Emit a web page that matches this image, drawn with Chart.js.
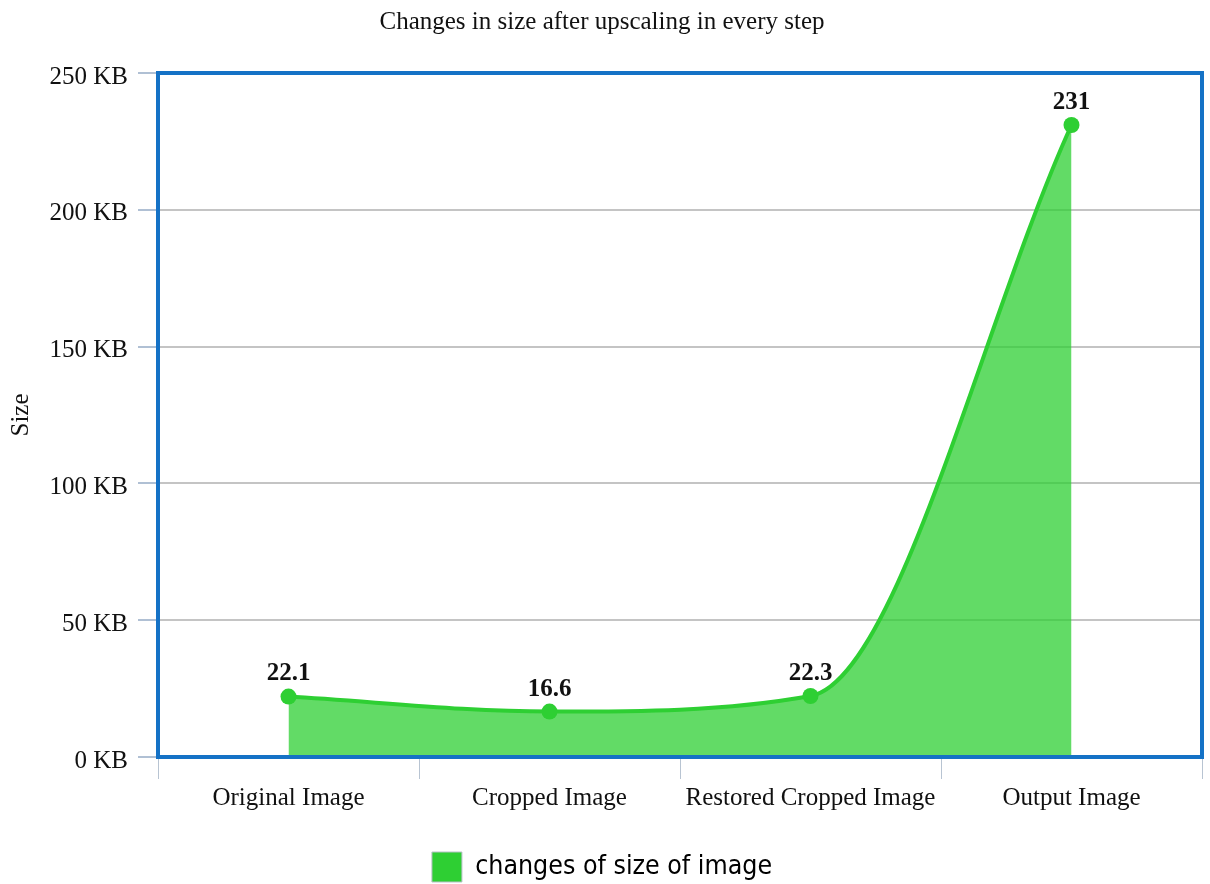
<!DOCTYPE html>
<html>
<head>
<meta charset="utf-8">
<script src="https://cdn.jsdelivr.net/npm/chart.js@4"></script>
<style>
  html, body { margin: 0; padding: 0; background: #fff; }
  #wrap { width: 1210px; height: 884px; }
</style>
</head>
<body>
<div id="wrap"><canvas id="sizeChart"></canvas></div>
<script>
const steps = ['Original Image', 'Cropped Image', 'Restored Cropped Image', 'Output Image'];
const sizesKb = [22.1, 16.6, 22.3, 231];
const yTicks = [0, 50, 100, 150, 200, 250];

const serif = '"Liberation Serif", "Times New Roman", serif';
const lineGreen = '#2ecf33';

// blue frame round the plot area
const frame = {
    id: 'frame',
    afterDraw(chart) {
        const { ctx, chartArea: a } = chart;
        ctx.save();
        ctx.strokeStyle = '#1572c6';
        ctx.lineWidth = 4;
        ctx.strokeRect(a.left, a.top, a.right - a.left, a.bottom - a.top);
        ctx.restore();
    }
};

// bold value above every point
const valueLabels = {
    id: 'valueLabels',
    afterDatasetsDraw(chart) {
        const { ctx } = chart;
        const meta = chart.getDatasetMeta(0);
        ctx.save();
        ctx.font = 'bold 25px ' + serif;
        ctx.fillStyle = '#111';
        ctx.textAlign = 'center';
        ctx.textBaseline = 'bottom';
        meta.data.forEach((pt, i) => {
            ctx.fillText(String(sizesKb[i]), pt.x, pt.y - 10);
        });
        ctx.restore();
    }
};

new Chart(document.getElementById('sizeChart'), {
    type: 'line',
    data: {
        labels: steps,
        datasets: [{
            label: 'changes of size of image',
            data: sizesKb,
            borderColor: lineGreen,
            backgroundColor: 'rgba(46,207,51,0.75)',
            borderWidth: 4,
            fill: 'origin',
            cubicInterpolationMode: 'monotone',
            pointRadius: 8,
            pointBackgroundColor: lineGreen,
            pointBorderWidth: 0
        }]
    },
    options: {
        responsive: true,
        maintainAspectRatio: false,
        animation: false,
        layout: { padding: { left: 0, right: 6, top: 0, bottom: -8 } },
        plugins: {
            title: {
                display: true,
                text: 'Changes in size after upscaling in every step',
                color: '#111',
                font: { family: serif, size: 25, weight: 'normal' },
                padding: { top: 7, bottom: 36 }
            },
            legend: {
                position: 'bottom',
                labels: {
                    boxWidth: 30,
                    boxHeight: 30,
                    color: '#333',
                    font: { family: '"DejaVu Sans Condensed", "Noto Sans", sans-serif', size: 26.5 },
                    padding: 3,
                    generateLabels: (chart) => [{
                        text: chart.data.datasets[0].label,
                        fillStyle: lineGreen,
                        strokeStyle: '#b8c0c8',
                        lineWidth: 1,
                        datasetIndex: 0
                    }]
                }
            },
            tooltip: { enabled: false }
        },
        scales: {
            x: {
                offset: true,
                afterFit: (s) => { s.height = 92; },
                grid: {
                    offset: true,
                    drawOnChartArea: false,
                    color: '#b8c4d2',
                    tickLength: 22
                },
                border: { color: '#c4ccd6', width: 2 },
                ticks: {
                    color: '#111',
                    font: { family: serif, size: 25 },
                    padding: 4,
                    maxRotation: 0
                }
            },
            y: {
                min: 0,
                max: 250,
                afterBuildTicks: (s) => { s.ticks = yTicks.map(v => ({ value: v })); },
                afterFit: (s) => { s.width = 158; },
                title: {
                    display: true,
                    text: 'Size',
                    color: '#111',
                    font: { family: serif, size: 25 },
                    padding: { top: 6, bottom: 0 }
                },
                grid: {
                    color: '#c4c4c4',
                    lineWidth: 2,
                    tickColor: '#b0c0d4',
                    tickLength: 20
                },
                border: { display: false },
                ticks: {
                    color: '#111',
                    font: { family: serif, size: 25 },
                    padding: 10,
                    labelOffset: 4,
                    callback: (v) => v + ' KB'
                }
            }
        }
    },
    plugins: [frame, valueLabels]
});
</script>
</body>
</html>
